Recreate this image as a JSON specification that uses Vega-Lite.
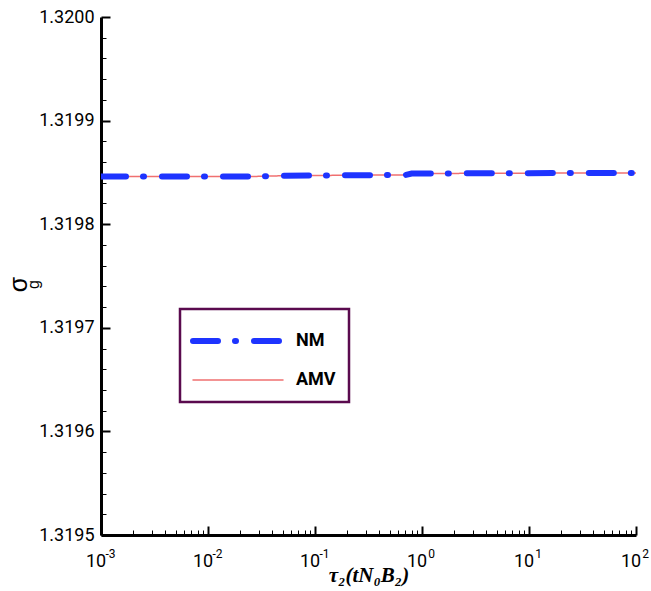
{
  "$schema": "https://vega.github.io/schema/vega-lite/v6.json",
  "width": 535,
  "height": 518,
  "autosize": "none",
  "padding": {"left": 101, "top": 17, "right": 15, "bottom": 56},
  "background": "white",
  "config": {
    "view": {"stroke": null},
    "axis": {"grid": false},
    "legend": {"strokeWidth": 2.5}
  },
  "datasets": {
    "amv": [
      {"tau": 0.001, "sigma": 1.319846, "series": "AMV"},
      {"tau": 0.025, "sigma": 1.319846, "series": "AMV"},
      {"tau": 0.047, "sigma": 1.3198467, "series": "AMV"},
      {"tau": 0.22, "sigma": 1.3198473, "series": "AMV"},
      {"tau": 0.7, "sigma": 1.3198475, "series": "AMV"},
      {"tau": 0.8, "sigma": 1.3198489, "series": "AMV"},
      {"tau": 5.5, "sigma": 1.3198492, "series": "AMV"},
      {"tau": 100, "sigma": 1.3198495, "series": "AMV"}
    ],
    "nm": [
      {"tau": 0.001, "sigma": 1.319846, "series": "NM"},
      {"tau": 0.025, "sigma": 1.319846, "series": "NM"},
      {"tau": 0.047, "sigma": 1.3198467, "series": "NM"},
      {"tau": 0.22, "sigma": 1.3198473, "series": "NM"},
      {"tau": 0.7, "sigma": 1.3198475, "series": "NM"},
      {"tau": 0.8, "sigma": 1.3198489, "series": "NM"},
      {"tau": 5.5, "sigma": 1.3198492, "series": "NM"},
      {"tau": 100, "sigma": 1.3198495, "series": "NM"}
    ]
  },
  "layer": [
    {
      "data": {"name": "amv"},
      "mark": {"type": "line", "clip": true},
      "encoding": {
        "x": {"field": "tau", "type": "quantitative",
          "scale": {"type": "log", "domain": [0.001, 100]},
          "axis": {"orient": "bottom",
            "values": [0.001,0.002,0.003,0.004,0.005,0.006,0.007,0.008,0.009,0.01,0.02,0.03,0.04,0.05,0.06,0.07,0.08,0.09,0.1,0.2,0.3,0.4,0.5,0.6,0.7,0.8,0.9,1,2,3,4,5,6,7,8,9,10,20,30,40,50,60,70,80,90,100],
            "domainColor": "black", "domainWidth": 3, "tickColor": "black",
            "tickSize": {"condition": {"test": "abs(log(datum.value)/LN10 - round(log(datum.value)/LN10)) < 0.001", "value": -9}, "value": -5},
            "tickWidth": {"condition": {"test": "abs(log(datum.value)/LN10 - round(log(datum.value)/LN10)) < 0.001", "value": 2}, "value": 1},
            "labelExpr": "abs(log(datum.value)/LN10 - round(log(datum.value)/LN10)) < 0.001 ? '10' : ''",
            "labelFont": "Roboto", "labelFontSize": 18, "labelColor": "black", "labelPadding": 26, "labelOffset": -5.5, "labelFlush": false, "labelOverlap": false,
            "title": "τ₂(tN₀B₂)", "titleFont": "Times New Roman", "titleFontStyle": "italic", "titleFontWeight": "bold", "titleFontSize": 21, "titleColor": "black", "titlePadding": -10}},
        "y": {"field": "sigma", "type": "quantitative",
          "scale": {"domain": [1.3195, 1.32], "zero": false, "nice": false},
          "axis": {"orient": "left",
            "values": [1.3195,1.31952,1.31954,1.31956,1.31958,1.3196,1.31962,1.31964,1.31966,1.31968,1.3197,1.31972,1.31974,1.31976,1.31978,1.3198,1.31982,1.31984,1.31986,1.31988,1.3199,1.31992,1.31994,1.31996,1.31998,1.32],
            "domainColor": "black", "domainWidth": 3, "tickColor": "black",
            "tickSize": {"condition": {"test": "abs(datum.value*10000 - round(datum.value*10000)) < 0.001", "value": -9}, "value": -5},
            "tickWidth": {"condition": {"test": "abs(datum.value*10000 - round(datum.value*10000)) < 0.001", "value": 2}, "value": 1},
            "labelExpr": "abs(datum.value*10000 - round(datum.value*10000)) < 0.001 ? format(datum.value, '.4f') : ''",
            "labelFont": "Roboto", "labelFontSize": 18, "labelColor": "black", "labelPadding": 16, "labelOverlap": false,
            "title": "σ", "titleFont": "Arial", "titleFontSize": 25, "titleFontWeight": "normal", "titleColor": "black",
            "titleAngle": -90, "titleAlign": "center", "titleBaseline": "middle", "titleX": -83, "titleY": 267}},
        "color": {"field": "series", "type": "nominal", "scale": {"domain": ["NM", "AMV"], "range": ["#1e34ff", "#f07070"]},
          "legend": {"orient": "none", "legendX": 79, "legendY": 292, "title": null, "strokeColor": "#5a0a4e", "fillColor": "white", "padding": 13,
            "symbolType": "M-1.1875,0H4.4375", "symbolSize": 1024, "symbolStrokeWidth": 6,
            "labelFont": "Roboto", "labelFontWeight": "bold", "labelFontSize": 18, "labelColor": "black", "labelOffset": 65, "rowPadding": 10,
            "encode": {"symbols": {"update": {"strokeCap": {"value": "round"}}}}}},
        "strokeDash": {"field": "series", "type": "nominal", "scale": {"domain": ["NM", "AMV"], "range": [[25, 17, 1, 18], [1, 0]]}},
        "strokeWidth": {"field": "series", "type": "nominal", "scale": {"domain": ["NM", "AMV"], "range": [6, 1.5]}}
      }
    },
    {
      "data": {"name": "nm"},
      "mark": {"type": "line", "clip": true, "strokeCap": "round"},
      "encoding": {
        "x": {"field": "tau", "type": "quantitative",
          "scale": {"type": "log", "domain": [0.001, 100]},
          "axis": {"orient": "bottom", "values": [0.001, 0.01, 0.1, 1, 10, 100], "domain": false, "ticks": false, "tickSize": 0,
            "labelExpr": "datum.value < 0.005 ? '-3' : datum.value < 0.05 ? '-2' : datum.value < 0.5 ? '-1' : datum.value < 5 ? '0' : datum.value < 50 ? '1' : '2'",
            "labelFont": "Roboto", "labelFontSize": 12, "labelColor": "black", "labelPadding": 13, "labelOffset": 9, "labelFlush": false, "labelOverlap": false,
            "title": null}},
        "y": {"field": "sigma", "type": "quantitative",
          "scale": {"domain": [1.3195, 1.32], "zero": false, "nice": false},
          "axis": {"orient": "left", "labels": false, "ticks": false, "domain": false,
            "title": "g", "titleFont": "Arial", "titleFontSize": 16, "titleFontWeight": "normal", "titleColor": "black",
            "titleAngle": -90, "titleAlign": "center", "titleBaseline": "middle", "titleX": -68, "titleY": 267}},
        "color": {"field": "series", "type": "nominal", "scale": {"domain": ["NM", "AMV"], "range": ["#1e34ff", "#f07070"]}},
        "strokeDash": {"field": "series", "type": "nominal", "scale": {"domain": ["NM", "AMV"], "range": [[25, 17, 1, 18], [1, 0]]}},
        "strokeWidth": {"field": "series", "type": "nominal", "scale": {"domain": ["NM", "AMV"], "range": [6, 1.5]}}
      }
    }
  ],
  "resolve": {"axis": {"x": "independent", "y": "independent"}}
}
